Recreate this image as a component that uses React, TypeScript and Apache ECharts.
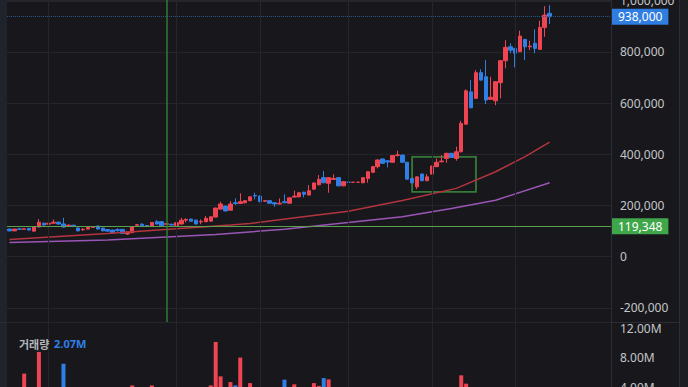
import React, { useEffect, useRef } from "react";
import * as echarts from "echarts";

// [open, close, low, high]
const ohlc: number[][] = [
  [108000, 101000, 99000, 110000], [101000, 108000, 100000, 109000], [109000, 107000, 105000, 111000],
  [107000, 109000, 106000, 110000], [111000, 104000, 103000, 112000], [100000, 116000, 99000, 117000],
  [116000, 135000, 115000, 147000], [131000, 124000, 122000, 133000], [127000, 131000, 125000, 133000],
  [131000, 135000, 130000, 146000], [135000, 128000, 126000, 137000], [128000, 116000, 114000, 152000],
  [118000, 123000, 117000, 127000], [123000, 118000, 116000, 125000], [112000, 101000, 100000, 114000],
  [105000, 107000, 101000, 112000], [108000, 115000, 106000, 116000], [115000, 117000, 114000, 118000],
  [120000, 108000, 107000, 122000], [112000, 101000, 100000, 113000], [106000, 100000, 99000, 108000],
  [104000, 94000, 92000, 106000], [106000, 102000, 98000, 111000], [107000, 91000, 90000, 108000],
  [89000, 97000, 85000, 98000], [94000, 117000, 92000, 119000], [123000, 125000, 120000, 128000],
  [127000, 121000, 116000, 131000], [122000, 120000, 119000, 123000], [120000, 134000, 118000, 136000],
  [137000, 128000, 126000, 143000], [137000, 121000, 119000, 139000], [127000, 129000, 125000, 131000],
  [127000, 124000, 122000, 129000], [121000, 133000, 119000, 135000], [128000, 143000, 126000, 152000],
  [143000, 146000, 134000, 150000], [147000, 139000, 137000, 149000], [143000, 128000, 126000, 145000],
  [136000, 138000, 127000, 146000], [137000, 150000, 135000, 159000], [139000, 156000, 137000, 158000],
  [155000, 190000, 153000, 192000], [186000, 206000, 184000, 215000], [198000, 179000, 177000, 200000],
  [182000, 206000, 180000, 217000], [211000, 208000, 202000, 228000], [208000, 215000, 206000, 248000],
  [211000, 219000, 208000, 221000], [219000, 234000, 217000, 236000], [239000, 237000, 224000, 250000],
  [237000, 215000, 213000, 240000], [217000, 219000, 214000, 222000], [219000, 209000, 207000, 221000],
  [211000, 206000, 195000, 213000], [206000, 209000, 205000, 228000], [215000, 211000, 209000, 244000],
  [209000, 230000, 207000, 232000], [233000, 237000, 231000, 258000], [234000, 250000, 232000, 252000],
  [252000, 244000, 232000, 254000], [241000, 258000, 239000, 280000], [264000, 288000, 262000, 290000],
  [281000, 302000, 279000, 319000], [309000, 289000, 287000, 335000], [287000, 309000, 250000, 311000],
  [302000, 306000, 300000, 322000], [309000, 277000, 275000, 311000], [277000, 293000, 275000, 296000],
  [291000, 291000, 291000, 291000], [291000, 291000, 291000, 291000], [291000, 291000, 291000, 291000],
  [289000, 309000, 287000, 311000], [306000, 332000, 289000, 334000], [330000, 352000, 328000, 354000],
  [352000, 378000, 345000, 380000], [382000, 365000, 363000, 384000], [375000, 370000, 349000, 377000],
  [369000, 395000, 367000, 397000], [396000, 398000, 391000, 414000], [397000, 369000, 367000, 399000],
  [369000, 303000, 301000, 371000], [306000, 289000, 287000, 308000], [273000, 312000, 264000, 314000],
  [323000, 297000, 295000, 325000], [297000, 312000, 295000, 323000], [323000, 354000, 321000, 356000],
  [352000, 369000, 350000, 384000], [371000, 374000, 369000, 397000], [384000, 404000, 367000, 406000],
  [404000, 388000, 386000, 406000], [384000, 410000, 375000, 430000], [410000, 521000, 408000, 531000],
  [518000, 648000, 516000, 654000], [644000, 582000, 580000, 690000], [619000, 719000, 617000, 729000],
  [719000, 690000, 688000, 732000], [703000, 612000, 596000, 768000], [615000, 623000, 612000, 703000],
  [609000, 684000, 592000, 686000], [680000, 766000, 619000, 768000], [766000, 818000, 736000, 846000],
  [820000, 807000, 795000, 834000], [814000, 795000, 740000, 816000], [801000, 862000, 799000, 883000],
  [849000, 820000, 768000, 851000], [820000, 823000, 807000, 844000], [834000, 814000, 795000, 888000],
  [810000, 896000, 808000, 922000], [896000, 944000, 859000, 979000], [951000, 938000, 909000, 983000],
];

const volumes: number[] = [
  1.2e6, 1.5e6, 0.9e6, 5.86e6, 1.1e6, 2.6e6, 8.79e6, 2.3e6, 1.8e6, 2.4e6,
  1.9e6, 7.21e6, 1.3e6, 1.1e6, 1.7e6, 0.9e6, 1.4e6, 0.8e6, 1.6e6, 1.5e6,
  1.0e6, 1.3e6, 0.9e6, 1.6e6, 1.4e6, 4.27e6, 1.2e6, 1.5e6, 0.8e6, 4.27e6,
  2.1e6, 1.9e6, 0.9e6, 0.8e6, 1.7e6, 3.1e6, 1.4e6, 1.2e6, 1.8e6, 1.0e6,
  2.5e6, 4.27e6, 10.14e6, 5.49e6, 3.2e6, 4.72e6, 4.27e6, 8.03e6, 2.2e6, 4.58e6,
  3.0e6, 2.8e6, 1.3e6, 1.6e6, 1.4e6, 1.9e6, 5.04e6, 2.9e6, 4.41e6, 3.1e6,
  2.0e6, 3.4e6, 4.58e6, 4.2e6, 5.26e6, 5.08e6, 2.2e6, 3.3e6, 2.1e6, 0.6e6,
  0.5e6, 0.5e6, 2.8e6, 3.2e6, 3.0e6, 3.5e6, 2.4e6, 1.9e6, 3.1e6, 1.6e6,
  2.5e6, 3.6e6, 2.2e6, 3.3e6, 2.0e6, 1.7e6, 2.6e6, 2.1e6, 1.4e6, 2.3e6,
  1.6e6, 2.9e6, 5.63e6, 4.5e6, 3.8e6, 3.7e6, 2.8e6, 3.6e6, 2.4e6, 3.0e6,
  3.4e6, 3.2e6, 1.8e6, 2.6e6, 3.1e6, 2.7e6, 1.5e6, 2.5e6, 3.5e6, 3.6e6,
  2.07e6,
];

// moving averages read at sample candles: [candle index, value]
const maLong: number[][] = [
  [0, 67000], [20, 91000], [45, 124000], [49, 130000], [59, 154000], [69, 178000],
  [80, 220000], [91, 267000], [99, 332000], [105, 391000], [110, 448000],
];
const maLonger: number[][] = [
  [0, 56000], [20, 65000], [42, 87000], [56, 107000], [80, 156000], [90, 188000],
  [99, 221000], [110, 289000],
];

const emptySlots = 12;
const categories: string[] = Array.from({ length: ohlc.length + emptySlots }, (_, i) => `D${i + 1}`);
const monthLines: number[] = [8, 34, 51, 69, 86, 103];
const markedCandle = 32;
const avgPrice = 119348;
const boxRange = { from: 82, to: 95, top: 390000, bottom: 253000 };
const priceTicks = { min: -255000, max: 1003000, step: 200000 };
const volumeTicks = { min: 0, max: 12.7e6, step: 4e6 };

const UP = "#ef4452";
const DOWN = "#2f7fe6";
const FONT = "'Noto Sans', 'Noto Sans CJK KR', sans-serif";

export default function App() {
  const ref = useRef<HTMLDivElement>(null);
  useEffect(() => {
    document.body.style.margin = "0";
    document.body.style.overflow = "hidden";
    if (!ref.current) return;
    const chart = echarts.init(ref.current, undefined, { renderer: "svg" });
    const lastClose = ohlc[ohlc.length - 1][1];
    const lastVol = volumes[volumes.length - 1];
    const fmt = (v: number) => v.toLocaleString("en-US");
    const gridLineData = monthLines.map((i) => ({ xAxis: i }));

    chart.setOption({
      animation: false,
      backgroundColor: "#18181c",
      textStyle: { fontFamily: FONT },
      title: {
        left: 14,
        top: 330,
        text: `{a|거래량} {b|${(lastVol / 1e6).toFixed(2)}M}`,
        textStyle: {
          rich: {
            a: { color: "#b4b6bb", fontSize: 11, fontFamily: "'Noto Sans CJK KR', sans-serif" },
            b: { color: "#2f7fe6", fontSize: 11, fontFamily: FONT },
          },
        },
      },
      grid: [
        { left: 7, right: 77, top: 0, height: 322, containLabel: false, outerBoundsMode: "none" },
        { left: 7, right: 77, top: 323, height: 94, containLabel: false, outerBoundsMode: "none" },
      ],
      xAxis: [
        {
          type: "category", gridIndex: 0, data: categories, boundaryGap: true,
          axisLine: { show: false }, axisTick: { show: false }, axisLabel: { show: false }, splitLine: { show: false },
        },
        {
          type: "category", gridIndex: 1, data: categories, boundaryGap: true,
          axisLine: { show: false }, axisTick: { show: false }, axisLabel: { show: false }, splitLine: { show: false },
        },
      ],
      yAxis: [
        {
          type: "value", gridIndex: 0, position: "right", scale: false,
          min: priceTicks.min, max: priceTicks.max,
          minInterval: priceTicks.step, maxInterval: priceTicks.step,
          axisLine: { show: true, lineStyle: { color: "#2a2d35" } },
          axisTick: { show: false },
          axisLabel: {
            color: "#c4c5c9", fontSize: 12, margin: 9, fontFamily: FONT,
            showMinLabel: false, showMaxLabel: false, formatter: fmt,
          },
          splitLine: { show: true, lineStyle: { color: "#24262c", width: 1 } },
        },
        {
          type: "value", gridIndex: 1, position: "right",
          min: volumeTicks.min, max: volumeTicks.max, interval: volumeTicks.step,
          axisLine: { show: true, lineStyle: { color: "#2a2d35" } },
          axisTick: { show: false },
          axisLabel: {
            color: "#c4c5c9", fontSize: 12, margin: 9, fontFamily: FONT,
            showMaxLabel: false, formatter: (v: number) => `${(v / 1e6).toFixed(2)}M`,
          },
          splitLine: { show: false },
        },
      ],
      series: [
        {
          type: "line", xAxisIndex: 0, yAxisIndex: 0, data: [], silent: true,
          markLine: {
            silent: true, symbol: ["none", "none"], label: { show: false },
            lineStyle: { color: "#24262c", width: 1, type: "solid" },
            data: gridLineData,
          },
        },
        {
          type: "line", xAxisIndex: 1, yAxisIndex: 1, data: [], silent: true,
          markLine: {
            silent: true, symbol: ["none", "none"], label: { show: false },
            lineStyle: { color: "#24262c", width: 1, type: "solid" },
            data: gridLineData,
          },
        },
        {
          name: "MA60", type: "line", xAxisIndex: 0, yAxisIndex: 0, data: maLong,
          showSymbol: false, smooth: false, lineStyle: { color: "#b3343f", width: 1.5 },
        },
        {
          name: "MA120", type: "line", xAxisIndex: 0, yAxisIndex: 0, data: maLonger,
          showSymbol: false, smooth: false, lineStyle: { color: "#9a55b6", width: 1.5 },
        },
        {
          type: "candlestick", xAxisIndex: 0, yAxisIndex: 0, data: ohlc, barWidth: 4,
          itemStyle: { color: UP, color0: DOWN, borderColor: UP, borderColor0: DOWN, borderWidth: 1 },
          markLine: {
            silent: true, symbol: ["none", "none"],
            data: [
              {
                yAxis: lastClose,
                lineStyle: { color: "#2d5688", type: "dotted", width: 1 },
                label: {
                  show: true, position: "end", distance: 1, formatter: () => fmt(lastClose),
                  color: "#ffffff", fontSize: 12, fontFamily: FONT,
                  backgroundColor: "#2f7de1", padding: [2, 6, 2, 6],
                },
              },
              {
                yAxis: avgPrice,
                lineStyle: { color: "#5a9f4e", type: "solid", width: 1 },
                label: {
                  show: true, position: "end", distance: 1, formatter: () => fmt(avgPrice),
                  color: "#ffffff", fontSize: 12, fontFamily: FONT,
                  backgroundColor: "#3fa64a", padding: [2, 6, 2, 6],
                },
              },
              {
                xAxis: markedCandle,
                lineStyle: { color: "#2f7a35", type: "solid", width: 1.5 },
                label: { show: false },
              },
            ],
          },
          markArea: {
            silent: true,
            itemStyle: { color: "rgba(0,0,0,0)", borderColor: "#367a39", borderWidth: 1.8 },
            data: [[
              { xAxis: boxRange.from, yAxis: boxRange.top },
              { xAxis: boxRange.to, yAxis: boxRange.bottom },
            ]],
          },
        },
        {
          type: "bar", xAxisIndex: 1, yAxisIndex: 1, barWidth: 4,
          data: volumes.map((v, i) => ({
            value: v,
            itemStyle: { color: ohlc[i][1] >= ohlc[i][0] ? UP : DOWN },
          })),
        },
      ],
      graphic: [
        { type: "rect", left: 0, top: 0, shape: { width: 7, height: 430 }, style: { fill: "#1f232b" }, silent: true },
        { type: "rect", left: 680, top: 0, shape: { width: 8, height: 430 }, style: { fill: "#1c1e24" }, silent: true },
        { type: "line", shape: { x1: 0, y1: 322.5, x2: 680, y2: 322.5 }, style: { stroke: "#2a2d35", lineWidth: 1 }, silent: true },
        { type: "line", shape: { x1: 679.5, y1: 0, x2: 679.5, y2: 430 }, style: { stroke: "#2a2d35", lineWidth: 1 }, silent: true },
      ],
    });
    return () => chart.dispose();
  }, []);
  return <div ref={ref} style={{ width: 688, height: 430 }} />;
}
